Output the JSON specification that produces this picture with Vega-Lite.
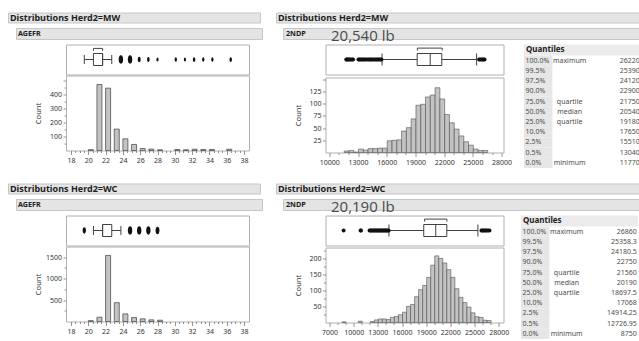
{
  "$schema": "https://vega.github.io/schema/vega-lite/v6.json",
  "background": "white",
  "padding": {"left": 7, "top": 11.5, "right": 0, "bottom": 0},
  "config": {
    "font": "Noto Sans",
    "view": {"stroke": "#b0b0b0", "strokeWidth": 1},
    "axis": {"domain": false, "grid": false, "labelFont": "Noto Sans", "labelFontSize": 7, "labelColor": "#333333", "tickColor": "#7a7a7a", "tickWidth": 0.8, "titleFont": "Noto Sans", "titleFontSize": 7.5, "titleFontWeight": "normal", "titleColor": "#333333", "labelOverlap": false, "labelFlush": false, "format": "d"}
  },
  "datasets": {
    "ageMW": [{"v":20,"n":6},{"v":21,"n":469},{"v":22,"n":443},{"v":23,"n":152},{"v":24,"n":83},{"v":25,"n":43},{"v":26,"n":14},{"v":27,"n":10},{"v":28,"n":5},{"v":30,"n":7},{"v":31,"n":5},{"v":32,"n":9},{"v":33,"n":7},{"v":34,"n":7},{"v":36,"n":9}],
    "ageWC": [{"v":20,"n":20},{"v":21,"n":100},{"v":22,"n":1540},{"v":23,"n":439},{"v":24,"n":177},{"v":25,"n":92},{"v":26,"n":62},{"v":27,"n":38},{"v":28,"n":30}],
    "ndpMW": [{"b":11500,"n":3},{"b":12000,"n":4},{"b":12500,"n":1},{"b":13000,"n":7},{"b":13500,"n":5},{"b":14000,"n":8},{"b":14500,"n":8},{"b":15000,"n":9},{"b":15500,"n":9},{"b":16000,"n":24},{"b":16500,"n":25},{"b":17000,"n":26},{"b":17500,"n":44},{"b":18000,"n":51},{"b":18500,"n":69},{"b":19000,"n":97},{"b":19500,"n":99},{"b":20000,"n":114},{"b":20500,"n":118},{"b":21000,"n":133},{"b":21500,"n":110},{"b":22000,"n":78},{"b":22500,"n":61},{"b":23000,"n":48},{"b":23500,"n":34},{"b":24000,"n":22},{"b":24500,"n":15},{"b":25000,"n":7},{"b":25500,"n":4},{"b":26000,"n":4}],
    "ndpWC": [{"b":8500,"n":2},{"b":10500,"n":4},{"b":12000,"n":3},{"b":12500,"n":8},{"b":13000,"n":11},{"b":13500,"n":11},{"b":14000,"n":9},{"b":14500,"n":16},{"b":15000,"n":19},{"b":15500,"n":24},{"b":16000,"n":32},{"b":16500,"n":50},{"b":17000,"n":56},{"b":17500,"n":80},{"b":18000,"n":102},{"b":18500,"n":115},{"b":19000,"n":140},{"b":19500,"n":178},{"b":20000,"n":207},{"b":20500,"n":199},{"b":21000,"n":185},{"b":21500,"n":164},{"b":22000,"n":140},{"b":22500,"n":105},{"b":23000,"n":78},{"b":23500,"n":62},{"b":24000,"n":48},{"b":24500,"n":30},{"b":25000,"n":18},{"b":25500,"n":16},{"b":26000,"n":7},{"b":26500,"n":6}],
    "box": [
      {"k":"aMW","lo":20,"q1":21,"md":22,"q3":22,"hi":23,"bl":21,"bh":22},
      {"k":"aWC","lo":21,"q1":22,"md":22,"q3":23,"hi":24},
      {"k":"nMW","lo":15510,"q1":19180,"md":20540,"q3":21750,"hi":25390,"bl":19200,"bh":21800},
      {"k":"nWC","lo":14380,"q1":18697.5,"md":20190,"q3":21560,"hi":25420,"bl":18800,"bh":21570}
    ],
    "outN": [
      {"k":"nMW","x":11770},{"k":"nMW","x":11830},{"k":"nMW","x":11920},{"k":"nMW","x":12020},{"k":"nMW","x":12130},{"k":"nMW","x":12260},{"k":"nMW","x":12390},{"k":"nMW","x":12480},
      {"k":"nMW","x":13040},{"k":"nMW","x":13130},{"k":"nMW","x":13260},{"k":"nMW","x":13380},{"k":"nMW","x":13500},{"k":"nMW","x":13620},{"k":"nMW","x":13750},{"k":"nMW","x":13900},{"k":"nMW","x":14050},{"k":"nMW","x":14180},{"k":"nMW","x":14300},{"k":"nMW","x":14420},{"k":"nMW","x":14560},{"k":"nMW","x":14700},{"k":"nMW","x":14850},{"k":"nMW","x":14980},{"k":"nMW","x":15100},{"k":"nMW","x":15230},{"k":"nMW","x":15350},{"k":"nMW","x":15450},
      {"k":"nMW","x":25650},{"k":"nMW","x":25760},{"k":"nMW","x":25880},{"k":"nMW","x":26000},{"k":"nMW","x":26100},{"k":"nMW","x":26220},
      {"k":"nWC","x":8750},{"k":"nWC","x":10850},{"k":"nWC","x":10900},
      {"k":"nWC","x":11970},{"k":"nWC","x":12080},{"k":"nWC","x":12200},{"k":"nWC","x":12320},{"k":"nWC","x":12440},{"k":"nWC","x":12560},{"k":"nWC","x":12680},{"k":"nWC","x":12800},{"k":"nWC","x":12920},{"k":"nWC","x":13040},{"k":"nWC","x":13160},{"k":"nWC","x":13280},{"k":"nWC","x":13400},{"k":"nWC","x":13520},{"k":"nWC","x":13640},{"k":"nWC","x":13760},{"k":"nWC","x":13880},{"k":"nWC","x":14000},{"k":"nWC","x":14120},{"k":"nWC","x":14240},{"k":"nWC","x":14340},
      {"k":"nWC","x":25860},{"k":"nWC","x":25980},{"k":"nWC","x":26100},{"k":"nWC","x":26230},{"k":"nWC","x":26380},{"k":"nWC","x":26520},{"k":"nWC","x":26680},{"k":"nWC","x":26860}
    ],
    "quant": [
      {"g":"MW","p":"100.0%","l":"maximum","v":"26220"},
      {"g":"MW","p":"99.5%","l":"","v":"25390"},
      {"g":"MW","p":"97.5%","l":"","v":"24120"},
      {"g":"MW","p":"90.0%","l":"","v":"22900"},
      {"g":"MW","p":"75.0%","l":"quartile","v":"21750"},
      {"g":"MW","p":"50.0%","l":"median","v":"20540"},
      {"g":"MW","p":"25.0%","l":"quartile","v":"19180"},
      {"g":"MW","p":"10.0%","l":"","v":"17650"},
      {"g":"MW","p":"2.5%","l":"","v":"15510"},
      {"g":"MW","p":"0.5%","l":"","v":"13040"},
      {"g":"MW","p":"0.0%","l":"minimum","v":"11770"},
      {"g":"WC","p":"100.0%","l":"maximum","v":"26860"},
      {"g":"WC","p":"99.5%","l":"","v":"25358.3"},
      {"g":"WC","p":"97.5%","l":"","v":"24180.5"},
      {"g":"WC","p":"90.0%","l":"","v":"22750"},
      {"g":"WC","p":"75.0%","l":"quartile","v":"21560"},
      {"g":"WC","p":"50.0%","l":"median","v":"20190"},
      {"g":"WC","p":"25.0%","l":"quartile","v":"18697.5"},
      {"g":"WC","p":"10.0%","l":"","v":"17068"},
      {"g":"WC","p":"2.5%","l":"","v":"14914.25"},
      {"g":"WC","p":"0.5%","l":"","v":"12726.95"},
      {"g":"WC","p":"0.0%","l":"minimum","v":"8750"}
    ]
  },
  "vconcat": [
    {
      "hconcat": [
        {
          "vconcat": [
            {"width": 252, "height": 10, "view": {"fill": "#e4e4e4", "stroke": "#c6c6c6"},
             "data": {"values": [{"t": "Distributions Herd2=MW"}]},
             "mark": {"type": "text", "align": "left", "baseline": "middle", "dx": 2, "fontSize": 9, "fontWeight": "bold", "color": "#1e1e1e"},
             "encoding": {"text": {"field": "t"}, "x": {"datum": 0, "type": "quantitative", "scale": {"domain": [0, 1]}, "axis": null}}},
            {"hconcat": [
              {"width": 7, "height": 11, "view": {"stroke": null}, "data": {"values": []}, "mark": "point", "encoding": {}},
              {"width": 246, "height": 11, "view": {"fill": "#e4e4e4", "stroke": "#c6c6c6"},
               "data": {"values": [{"t": "AGEFR"}]},
               "mark": {"type": "text", "align": "left", "baseline": "middle", "dx": 2, "fontSize": 7.2, "fontWeight": "bold", "color": "#1e1e1e"},
               "encoding": {"text": {"field": "t"}, "x": {"datum": 0, "type": "quantitative", "scale": {"domain": [0, 1]}, "axis": null}}}
            ], "spacing": 0},
            {"hconcat": [
              {"width": 26, "height": 30, "view": {"stroke": null}, "data": {"values": []}, "mark": "point", "encoding": {}},
              {
                "vconcat": [
                  {"width": 183, "height": 30,
                   "data": {"name": "box"}, "transform": [{"filter": "datum.k == 'aMW'"}],
                   "layer": [
                     {"mark": {"type": "rule", "color": "#404040"},
                      "encoding": {"x": {"field": "lo", "type": "quantitative", "scale": {"domain": [18, 38], "nice": false, "zero": false}, "axis": null}, "x2": {"field": "hi"},
                        "y": {"datum": 0.5, "type": "quantitative", "scale": {"domain": [0, 1], "nice": false}, "axis": null}}},
                     {"mark": {"type": "rule", "color": "#404040"}, "encoding": {"x": {"field": "lo", "type": "quantitative"}, "y": {"datum": 0.35, "type": "quantitative"}, "y2": {"datum": 0.65}}},
                     {"mark": {"type": "rule", "color": "#404040"}, "encoding": {"x": {"field": "hi", "type": "quantitative"}, "y": {"datum": 0.35, "type": "quantitative"}, "y2": {"datum": 0.65}}},
                     {"mark": {"type": "rect", "fill": "white", "stroke": "#404040", "strokeWidth": 1}, "encoding": {"x": {"field": "q1", "type": "quantitative"}, "x2": {"field": "q3"}, "y": {"datum": 0.3, "type": "quantitative"}, "y2": {"datum": 0.7}}},
                     {"mark": {"type": "rule", "color": "#404040"}, "encoding": {"x": {"field": "md", "type": "quantitative"}, "y": {"datum": 0.3, "type": "quantitative"}, "y2": {"datum": 0.7}}},
                     {"mark": {"type": "rule", "color": "#404040"}, "encoding": {"x": {"field": "bl", "type": "quantitative"}, "x2": {"field": "bh"}, "y": {"datum": 0.87, "type": "quantitative"}}},
                     {"mark": {"type": "rule", "color": "#404040"}, "encoding": {"x": {"field": "bl", "type": "quantitative"}, "y": {"datum": 0.87, "type": "quantitative"}, "y2": {"datum": 0.79}}},
                     {"mark": {"type": "rule", "color": "#404040"}, "encoding": {"x": {"field": "bh", "type": "quantitative"}, "y": {"datum": 0.87, "type": "quantitative"}, "y2": {"datum": 0.79}}},
                     {"data": {"name": "ageMW"}, "transform": [{"filter": "datum.v >= 24"}],
                      "mark": {"type": "point", "filled": true, "color": "#111111", "opacity": 1, "shape": "M0,-1C0.7,-1,0.7,1,0,1C-0.7,1,-0.7,-1,0,-1Z"},
                      "encoding": {"x": {"field": "v", "type": "quantitative"}, "y": {"datum": 0.5, "type": "quantitative"},
                        "size": {"field": "n", "type": "quantitative", "scale": {"domain": [5, 40], "range": [16, 72], "clamp": true}, "legend": null}}}
                   ]},
                  {"width": 183, "height": 75,
                   "data": {"name": "ageMW"},
                   "mark": {"type": "bar", "size": 5, "xOffset": 2.5, "fill": "#c3c3c3", "stroke": "#505050", "strokeWidth": 0.8},
                   "encoding": {
                     "x": {"field": "v", "type": "quantitative", "scale": {"domain": [18, 38], "nice": false, "zero": false},
                       "axis": {"title": null, "values": [18,18.5,19,19.5,20,20.5,21,21.5,22,22.5,23,23.5,24,24.5,25,25.5,26,26.5,27,27.5,28,28.5,29,29.5,30,30.5,31,31.5,32,32.5,33,33.5,34,34.5,35,35.5,36,36.5,37,37.5,38],
                         "labelExpr": "datum.value % 2 == 0 ? datum.label : ''", "tickSize": {"condition": {"test": "datum.value % 2 == 0", "value": 4}, "value": 2}, "labelPadding": 1.5}},
                     "y": {"field": "n", "type": "quantitative", "scale": {"domain": [0, 533], "nice": false},
                       "axis": {"title": "Count", "values": [50,100,150,200,250,300,350,400,450,500],
                         "labelExpr": "datum.value % 100 == 0 && datum.value <= 400 ? datum.label : ''", "tickSize": {"condition": {"test": "datum.value % 100 == 0", "value": 3}, "value": 2},
                         "labelPadding": 1.5, "minExtent": 21, "maxExtent": 21, "titlePadding": 2.5}}
                   }}
                ],
                "spacing": -1
              }
            ], "spacing": 0}
          ],
          "spacing": 3.5
        },
        {
          "vconcat": [
            {
              "vconcat": [
                {"width": 364, "height": 10, "view": {"fill": "#e4e4e4", "stroke": "#c6c6c6"},
                 "data": {"values": [{"t": "Distributions Herd2=MW"}]},
                 "mark": {"type": "text", "align": "left", "baseline": "middle", "dx": 2, "fontSize": 9, "fontWeight": "bold", "color": "#1e1e1e"},
                 "encoding": {"text": {"field": "t"}, "x": {"datum": 0, "type": "quantitative", "scale": {"domain": [0, 1]}, "axis": null}}},
                {"hconcat": [
                  {"width": 6, "height": 11, "view": {"stroke": null}, "data": {"values": []}, "mark": "point", "encoding": {}},
                  {"width": 358, "height": 11, "view": {"fill": "#e4e4e4", "stroke": "#c6c6c6"},
                   "data": {"values": [{"t": "2NDP", "big": "20,540 lb"}]},
                   "layer": [
                     {"mark": {"type": "text", "align": "left", "baseline": "middle", "dx": 3, "fontSize": 7.2, "fontWeight": "bold", "color": "#1e1e1e"},
                      "encoding": {"text": {"field": "t"}, "x": {"datum": 0, "type": "quantitative", "scale": {"domain": [0, 1]}, "axis": null}}},
                     {"mark": {"type": "text", "align": "left", "baseline": "middle", "dy": 2, "font": "Open Sans", "fontSize": 15, "color": "#4a4a4a"},
                      "encoding": {"text": {"field": "big"}, "x": {"datum": 0.134, "type": "quantitative"}}}
                   ]}
                ], "spacing": 0}
              ],
              "spacing": 3.5
            },
            {
              "hconcat": [
                {"width": 5.5, "height": 30, "view": {"stroke": null}, "data": {"values": []}, "mark": "point", "encoding": {}},
                {
                  "vconcat": [
                    {"width": 178, "height": 30,
                     "data": {"name": "box"}, "transform": [{"filter": "datum.k == 'nMW'"}],
                     "layer": [
                       {"mark": {"type": "rule", "color": "#404040"},
                        "encoding": {"x": {"field": "lo", "type": "quantitative", "scale": {"domain": [9600, 28200], "nice": false, "zero": false}, "axis": null}, "x2": {"field": "hi"},
                          "y": {"datum": 0.5, "type": "quantitative", "scale": {"domain": [0, 1], "nice": false}, "axis": null}}},
                       {"mark": {"type": "rule", "color": "#404040"}, "encoding": {"x": {"field": "lo", "type": "quantitative"}, "y": {"datum": 0.3, "type": "quantitative"}, "y2": {"datum": 0.7}}},
                       {"mark": {"type": "rule", "color": "#404040"}, "encoding": {"x": {"field": "hi", "type": "quantitative"}, "y": {"datum": 0.3, "type": "quantitative"}, "y2": {"datum": 0.7}}},
                       {"mark": {"type": "rect", "fill": "white", "stroke": "#404040", "strokeWidth": 1}, "encoding": {"x": {"field": "q1", "type": "quantitative"}, "x2": {"field": "q3"}, "y": {"datum": 0.3, "type": "quantitative"}, "y2": {"datum": 0.7}}},
                       {"mark": {"type": "rule", "color": "#404040"}, "encoding": {"x": {"field": "md", "type": "quantitative"}, "y": {"datum": 0.3, "type": "quantitative"}, "y2": {"datum": 0.7}}},
                       {"mark": {"type": "rule", "color": "#404040"}, "encoding": {"x": {"field": "bl", "type": "quantitative"}, "x2": {"field": "bh"}, "y": {"datum": 0.88, "type": "quantitative"}}},
                       {"mark": {"type": "rule", "color": "#404040"}, "encoding": {"x": {"field": "bl", "type": "quantitative"}, "y": {"datum": 0.88, "type": "quantitative"}, "y2": {"datum": 0.8}}},
                       {"mark": {"type": "rule", "color": "#404040"}, "encoding": {"x": {"field": "bh", "type": "quantitative"}, "y": {"datum": 0.88, "type": "quantitative"}, "y2": {"datum": 0.8}}},
                       {"data": {"name": "outN"}, "transform": [{"filter": "datum.k == 'nMW'"}],
                        "mark": {"type": "point", "filled": true, "color": "#111111", "opacity": 1, "size": 16},
                        "encoding": {"x": {"field": "x", "type": "quantitative"}, "y": {"datum": 0.5, "type": "quantitative"}}}
                     ]},
                    {"width": 178, "height": 75,
                     "data": {"name": "ndpMW"},
                     "mark": {"type": "bar", "binSpacing": 0, "fill": "#c3c3c3", "stroke": "#505050", "strokeWidth": 0.6},
                     "encoding": {
                       "x": {"field": "b", "type": "quantitative", "bin": {"binned": true, "step": 500}, "scale": {"domain": [9600, 28200], "nice": false, "zero": false},
                         "axis": {"title": null, "values": [10000,11000,12000,13000,14000,15000,16000,17000,18000,19000,20000,21000,22000,23000,24000,25000,26000,27000,28000],
                           "labelExpr": "(datum.value - 10000) % 3000 == 0 ? datum.label : ''", "tickSize": {"condition": {"test": "(datum.value - 10000) % 3000 == 0", "value": 4}, "value": 2}, "labelPadding": 1.5}},
                       "y": {"field": "n", "type": "quantitative", "scale": {"domain": [0, 154], "nice": false},
                         "axis": {"title": "Count", "values": [25,50,75,100,125,150],
                           "labelExpr": "datum.value <= 125 ? datum.label : ''", "tickSize": 3,
                           "labelPadding": 1.5, "minExtent": 21, "maxExtent": 21, "titlePadding": 2.5}}
                     }}
                  ],
                  "spacing": -1
                },
                {
                  "vconcat": [
                    {"width": 117, "height": 11, "view": {"fill": "#ebebeb", "stroke": null},
                     "data": {"values": [{"t": "Quantiles"}]},
                     "mark": {"type": "text", "align": "left", "baseline": "middle", "dx": 2, "fontSize": 8, "fontWeight": "bold", "color": "#222222"},
                     "encoding": {"text": {"field": "t"}, "x": {"datum": 0, "type": "quantitative", "scale": {"domain": [0, 1]}, "axis": null}}},
                    {"width": 117, "height": 112.5, "view": {"stroke": null},
                     "data": {"name": "quant"}, "transform": [{"filter": "datum.g == 'MW'"}],
                     "layer": [
                       {"mark": {"type": "rect", "fill": "#e6e6e6"},
                        "encoding": {"x": {"datum": 0, "type": "quantitative", "scale": {"domain": [0, 1]}, "axis": null}, "x2": {"datum": 0.243},
                          "y": {"field": "p", "type": "ordinal", "sort": null, "scale": {"paddingInner": 0, "paddingOuter": 0}, "axis": null}}},
                       {"mark": {"type": "text", "align": "left", "baseline": "middle", "dx": 1.5, "fontSize": 7, "color": "#4d4d4d"},
                        "encoding": {"text": {"field": "p"}, "x": {"datum": 0, "type": "quantitative"}, "y": {"field": "p", "type": "ordinal", "sort": null}}},
                       {"mark": {"type": "text", "align": "center", "baseline": "middle", "fontSize": 7, "color": "#4d4d4d"},
                        "encoding": {"text": {"field": "l"}, "x": {"datum": 0.39, "type": "quantitative"}, "y": {"field": "p", "type": "ordinal", "sort": null}}},
                       {"mark": {"type": "text", "align": "right", "baseline": "middle", "fontSize": 7, "color": "#4d4d4d"},
                        "encoding": {"text": {"field": "v"}, "x": {"datum": 0.99, "type": "quantitative"}, "y": {"field": "p", "type": "ordinal", "sort": null}}}
                     ]}
                  ],
                  "spacing": 0
                }
              ],
              "spacing": 11.5
            }
          ],
          "spacing": -4.5
        }
      ],
      "spacing": 12
    },
    {
      "hconcat": [
        {
          "vconcat": [
            {"width": 252, "height": 10, "view": {"fill": "#e4e4e4", "stroke": "#c6c6c6"},
             "data": {"values": [{"t": "Distributions Herd2=WC"}]},
             "mark": {"type": "text", "align": "left", "baseline": "middle", "dx": 2, "fontSize": 9, "fontWeight": "bold", "color": "#1e1e1e"},
             "encoding": {"text": {"field": "t"}, "x": {"datum": 0, "type": "quantitative", "scale": {"domain": [0, 1]}, "axis": null}}},
            {"hconcat": [
              {"width": 7, "height": 11, "view": {"stroke": null}, "data": {"values": []}, "mark": "point", "encoding": {}},
              {"width": 246, "height": 11, "view": {"fill": "#e4e4e4", "stroke": "#c6c6c6"},
               "data": {"values": [{"t": "AGEFR"}]},
               "mark": {"type": "text", "align": "left", "baseline": "middle", "dx": 2, "fontSize": 7.2, "fontWeight": "bold", "color": "#1e1e1e"},
               "encoding": {"text": {"field": "t"}, "x": {"datum": 0, "type": "quantitative", "scale": {"domain": [0, 1]}, "axis": null}}}
            ], "spacing": 0},
            {"hconcat": [
              {"width": 26, "height": 30, "view": {"stroke": null}, "data": {"values": []}, "mark": "point", "encoding": {}},
              {
                "vconcat": [
                  {"width": 183, "height": 30,
                   "data": {"name": "box"}, "transform": [{"filter": "datum.k == 'aWC'"}],
                   "layer": [
                     {"mark": {"type": "rule", "color": "#404040"},
                      "encoding": {"x": {"field": "lo", "type": "quantitative", "scale": {"domain": [18, 38], "nice": false, "zero": false}, "axis": null}, "x2": {"field": "hi"},
                        "y": {"datum": 0.5, "type": "quantitative", "scale": {"domain": [0, 1], "nice": false}, "axis": null}}},
                     {"mark": {"type": "rule", "color": "#404040"}, "encoding": {"x": {"field": "lo", "type": "quantitative"}, "y": {"datum": 0.35, "type": "quantitative"}, "y2": {"datum": 0.65}}},
                     {"mark": {"type": "rule", "color": "#404040"}, "encoding": {"x": {"field": "hi", "type": "quantitative"}, "y": {"datum": 0.35, "type": "quantitative"}, "y2": {"datum": 0.65}}},
                     {"mark": {"type": "rect", "fill": "white", "stroke": "#404040", "strokeWidth": 1}, "encoding": {"x": {"field": "q1", "type": "quantitative"}, "x2": {"field": "q3"}, "y": {"datum": 0.3, "type": "quantitative"}, "y2": {"datum": 0.7}}},
                     {"mark": {"type": "rule", "color": "#404040"}, "encoding": {"x": {"field": "md", "type": "quantitative"}, "y": {"datum": 0.3, "type": "quantitative"}, "y2": {"datum": 0.7}}},
                     {"data": {"name": "ageWC"}, "transform": [{"filter": "datum.v == 20 || datum.v >= 25"}],
                      "mark": {"type": "point", "filled": true, "color": "#111111", "opacity": 1, "shape": "M0,-1C0.7,-1,0.7,1,0,1C-0.7,1,-0.7,-1,0,-1Z"},
                      "encoding": {"x": {"field": "v", "type": "quantitative"}, "y": {"datum": 0.5, "type": "quantitative"},
                        "size": {"field": "n", "type": "quantitative", "scale": {"domain": [5, 40], "range": [16, 72], "clamp": true}, "legend": null}}}
                   ]},
                  {"width": 183, "height": 75,
                   "data": {"name": "ageWC"},
                   "mark": {"type": "bar", "size": 5, "xOffset": 2.5, "fill": "#c3c3c3", "stroke": "#505050", "strokeWidth": 0.8},
                   "encoding": {
                     "x": {"field": "v", "type": "quantitative", "scale": {"domain": [18, 38], "nice": false, "zero": false},
                       "axis": {"title": null, "values": [18,18.5,19,19.5,20,20.5,21,21.5,22,22.5,23,23.5,24,24.5,25,25.5,26,26.5,27,27.5,28,28.5,29,29.5,30,30.5,31,31.5,32,32.5,33,33.5,34,34.5,35,35.5,36,36.5,37,37.5,38],
                         "labelExpr": "datum.value % 2 == 0 ? datum.label : ''", "tickSize": {"condition": {"test": "datum.value % 2 == 0", "value": 4}, "value": 2}, "labelPadding": 1.5}},
                     "y": {"field": "n", "type": "quantitative", "scale": {"domain": [0, 1748], "nice": false},
                       "axis": {"title": "Count", "values": [250,500,750,1000,1250,1500,1750],
                         "labelExpr": "datum.value % 500 == 0 ? datum.label : ''", "tickSize": {"condition": {"test": "datum.value % 500 == 0", "value": 3}, "value": 2},
                         "labelPadding": 1.5, "minExtent": 21, "maxExtent": 21, "titlePadding": 2.5}}
                   }}
                ],
                "spacing": -1
              }
            ], "spacing": 0}
          ],
          "spacing": 3.5
        },
        {
          "vconcat": [
            {
              "vconcat": [
                {"width": 364, "height": 10, "view": {"fill": "#e4e4e4", "stroke": "#c6c6c6"},
                 "data": {"values": [{"t": "Distributions Herd2=WC"}]},
                 "mark": {"type": "text", "align": "left", "baseline": "middle", "dx": 2, "fontSize": 9, "fontWeight": "bold", "color": "#1e1e1e"},
                 "encoding": {"text": {"field": "t"}, "x": {"datum": 0, "type": "quantitative", "scale": {"domain": [0, 1]}, "axis": null}}},
                {"hconcat": [
                  {"width": 6, "height": 11, "view": {"stroke": null}, "data": {"values": []}, "mark": "point", "encoding": {}},
                  {"width": 358, "height": 11, "view": {"fill": "#e4e4e4", "stroke": "#c6c6c6"},
                   "data": {"values": [{"t": "2NDP", "big": "20,190 lb"}]},
                   "layer": [
                     {"mark": {"type": "text", "align": "left", "baseline": "middle", "dx": 3, "fontSize": 7.2, "fontWeight": "bold", "color": "#1e1e1e"},
                      "encoding": {"text": {"field": "t"}, "x": {"datum": 0, "type": "quantitative", "scale": {"domain": [0, 1]}, "axis": null}}},
                     {"mark": {"type": "text", "align": "left", "baseline": "middle", "dy": 2, "font": "Open Sans", "fontSize": 15, "color": "#4a4a4a"},
                      "encoding": {"text": {"field": "big"}, "x": {"datum": 0.134, "type": "quantitative"}}}
                   ]}
                ], "spacing": 0}
              ],
              "spacing": 3.5
            },
            {
              "hconcat": [
                {"width": 5.5, "height": 30, "view": {"stroke": null}, "data": {"values": []}, "mark": "point", "encoding": {}},
                {
                  "vconcat": [
                    {"width": 178, "height": 30,
                     "data": {"name": "box"}, "transform": [{"filter": "datum.k == 'nWC'"}],
                     "layer": [
                       {"mark": {"type": "rule", "color": "#404040"},
                        "encoding": {"x": {"field": "lo", "type": "quantitative", "scale": {"domain": [6500, 28600], "nice": false, "zero": false}, "axis": null}, "x2": {"field": "hi"},
                          "y": {"datum": 0.5, "type": "quantitative", "scale": {"domain": [0, 1], "nice": false}, "axis": null}}},
                       {"mark": {"type": "rule", "color": "#404040"}, "encoding": {"x": {"field": "lo", "type": "quantitative"}, "y": {"datum": 0.3, "type": "quantitative"}, "y2": {"datum": 0.7}}},
                       {"mark": {"type": "rule", "color": "#404040"}, "encoding": {"x": {"field": "hi", "type": "quantitative"}, "y": {"datum": 0.3, "type": "quantitative"}, "y2": {"datum": 0.7}}},
                       {"mark": {"type": "rect", "fill": "white", "stroke": "#404040", "strokeWidth": 1}, "encoding": {"x": {"field": "q1", "type": "quantitative"}, "x2": {"field": "q3"}, "y": {"datum": 0.3, "type": "quantitative"}, "y2": {"datum": 0.7}}},
                       {"mark": {"type": "rule", "color": "#404040"}, "encoding": {"x": {"field": "md", "type": "quantitative"}, "y": {"datum": 0.3, "type": "quantitative"}, "y2": {"datum": 0.7}}},
                       {"mark": {"type": "rule", "color": "#404040"}, "encoding": {"x": {"field": "bl", "type": "quantitative"}, "x2": {"field": "bh"}, "y": {"datum": 0.88, "type": "quantitative"}}},
                       {"mark": {"type": "rule", "color": "#404040"}, "encoding": {"x": {"field": "bl", "type": "quantitative"}, "y": {"datum": 0.88, "type": "quantitative"}, "y2": {"datum": 0.8}}},
                       {"mark": {"type": "rule", "color": "#404040"}, "encoding": {"x": {"field": "bh", "type": "quantitative"}, "y": {"datum": 0.88, "type": "quantitative"}, "y2": {"datum": 0.8}}},
                       {"data": {"name": "outN"}, "transform": [{"filter": "datum.k == 'nWC'"}],
                        "mark": {"type": "point", "filled": true, "color": "#111111", "opacity": 1, "size": 16},
                        "encoding": {"x": {"field": "x", "type": "quantitative"}, "y": {"datum": 0.5, "type": "quantitative"}}}
                     ]},
                    {"width": 178, "height": 75,
                     "data": {"name": "ndpWC"},
                     "mark": {"type": "bar", "binSpacing": 0, "fill": "#c3c3c3", "stroke": "#505050", "strokeWidth": 0.6},
                     "encoding": {
                       "x": {"field": "b", "type": "quantitative", "bin": {"binned": true, "step": 500}, "scale": {"domain": [6500, 28600], "nice": false, "zero": false},
                         "axis": {"title": null, "values": [7000,8000,9000,10000,11000,12000,13000,14000,15000,16000,17000,18000,19000,20000,21000,22000,23000,24000,25000,26000,27000,28000],
                           "labelExpr": "(datum.value - 7000) % 3000 == 0 ? datum.label : ''", "tickSize": {"condition": {"test": "(datum.value - 7000) % 3000 == 0", "value": 4}, "value": 2}, "labelPadding": 1.5}},
                       "y": {"field": "n", "type": "quantitative", "scale": {"domain": [0, 233], "nice": false},
                         "axis": {"title": "Count", "values": [25,50,75,100,125,150,175,200,225],
                           "labelExpr": "datum.value % 50 == 0 ? datum.label : ''", "tickSize": {"condition": {"test": "datum.value % 50 == 0", "value": 3}, "value": 2},
                           "labelPadding": 1.5, "minExtent": 21, "maxExtent": 21, "titlePadding": 2.5}}
                     }}
                  ],
                  "spacing": -1
                },
                {
                  "vconcat": [
                    {"width": 117, "height": 11, "view": {"fill": "#ebebeb", "stroke": null},
                     "data": {"values": [{"t": "Quantiles"}]},
                     "mark": {"type": "text", "align": "left", "baseline": "middle", "dx": 2, "fontSize": 8, "fontWeight": "bold", "color": "#222222"},
                     "encoding": {"text": {"field": "t"}, "x": {"datum": 0, "type": "quantitative", "scale": {"domain": [0, 1]}, "axis": null}}},
                    {"width": 117, "height": 112.5, "view": {"stroke": null},
                     "data": {"name": "quant"}, "transform": [{"filter": "datum.g == 'WC'"}],
                     "layer": [
                       {"mark": {"type": "rect", "fill": "#e6e6e6"},
                        "encoding": {"x": {"datum": 0, "type": "quantitative", "scale": {"domain": [0, 1]}, "axis": null}, "x2": {"datum": 0.243},
                          "y": {"field": "p", "type": "ordinal", "sort": null, "scale": {"paddingInner": 0, "paddingOuter": 0}, "axis": null}}},
                       {"mark": {"type": "text", "align": "left", "baseline": "middle", "dx": 1.5, "fontSize": 7, "color": "#4d4d4d"},
                        "encoding": {"text": {"field": "p"}, "x": {"datum": 0, "type": "quantitative"}, "y": {"field": "p", "type": "ordinal", "sort": null}}},
                       {"mark": {"type": "text", "align": "center", "baseline": "middle", "fontSize": 7, "color": "#4d4d4d"},
                        "encoding": {"text": {"field": "l"}, "x": {"datum": 0.39, "type": "quantitative"}, "y": {"field": "p", "type": "ordinal", "sort": null}}},
                       {"mark": {"type": "text", "align": "right", "baseline": "middle", "fontSize": 7, "color": "#4d4d4d"},
                        "encoding": {"text": {"field": "v"}, "x": {"datum": 0.99, "type": "quantitative"}, "y": {"field": "p", "type": "ordinal", "sort": null}}}
                     ]}
                  ],
                  "spacing": 0
                }
              ],
              "spacing": 11.5
            }
          ],
          "spacing": -4.5
        }
      ],
      "spacing": 12
    }
  ],
  "spacing": 14
}
